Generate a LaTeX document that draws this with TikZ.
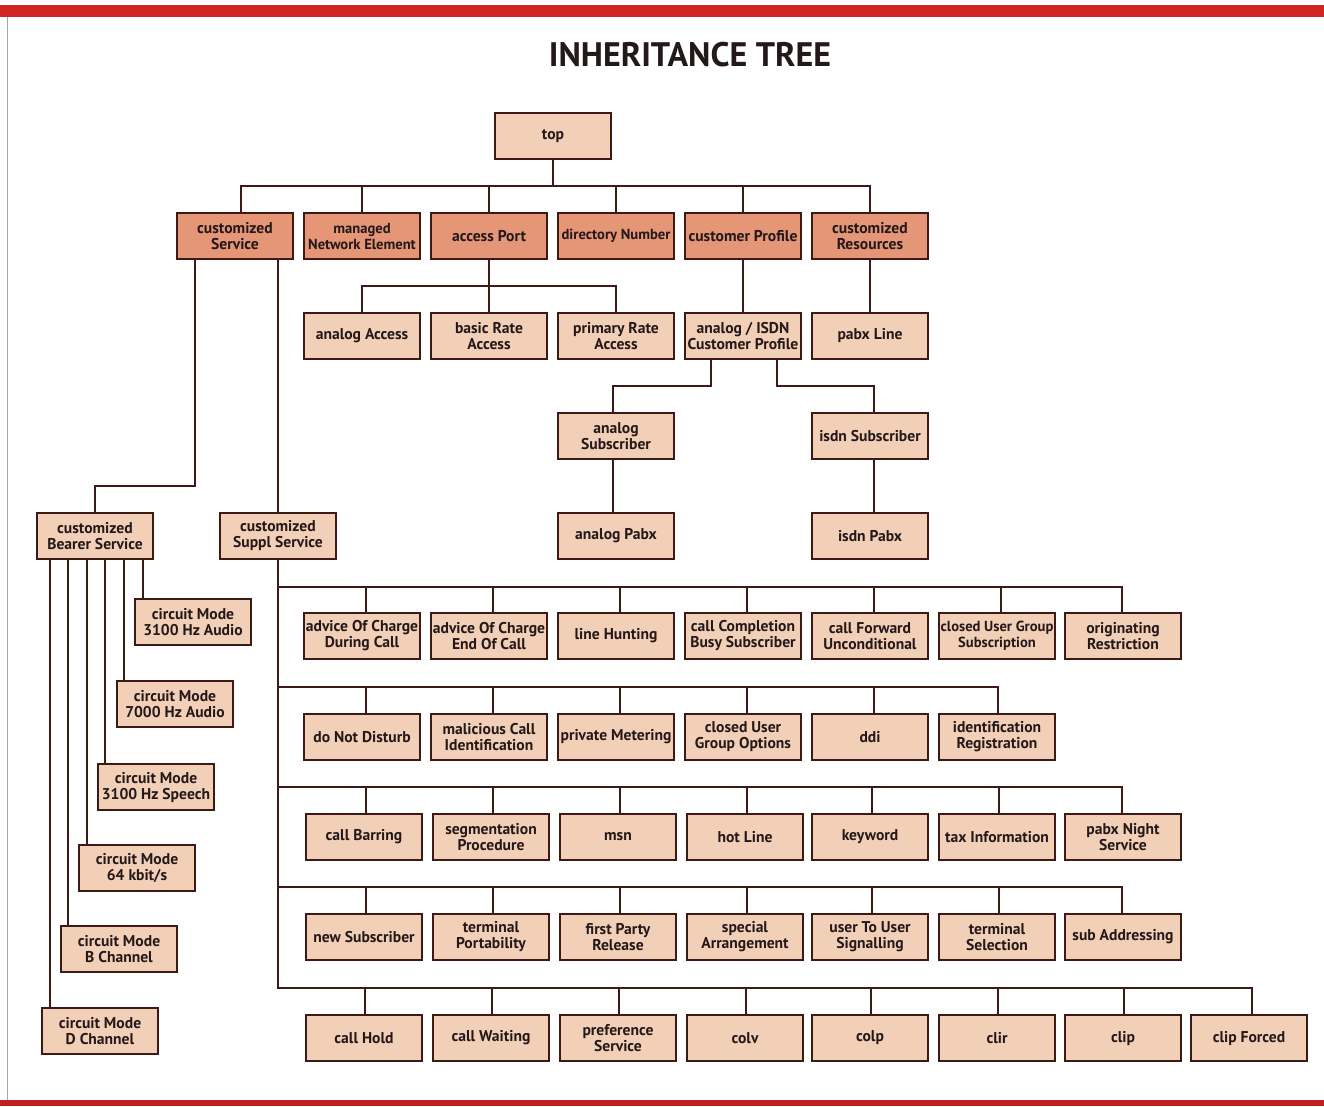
\documentclass[tikz,border=0pt]{standalone}
\usepackage{fontspec}
\setmainfont{PT Sans}
\definecolor{lightfill}{RGB}{242,208,184}
\definecolor{darkfill}{RGB}{228,150,118}
\definecolor{edge}{RGB}{62,26,22}
\definecolor{txt}{RGB}{36,24,24}
\definecolor{barred}{RGB}{208,38,36}
\tikzset{
  box/.style={draw=edge, line width=2.6pt, fill=lightfill, minimum width=116pt, minimum height=46pt,
    inner sep=0pt, align=center, text=txt, font=\fontsize{15.6}{16}\selectfont\bfseries},
  dbox/.style={box, fill=darkfill},
  tight/.style={font=\fontsize{14.6}{16}\selectfont\bfseries},
  conn/.style={draw=edge, line width=2pt}
}
\begin{document}
\begin{tikzpicture}[x=1pt,y=-1pt]
\useasboundingbox (0,0) rectangle (1324,1106);
\fill[white] (0,0) rectangle (1324,1106);
\fill[barred] (0,5) rectangle (1324,17);
\fill[barred!90!black] (0,1100) rectangle (1324,1106);
\draw[gray!70, line width=1pt] (7,17) -- (7,1100);
\node[font=\fontsize{34}{36}\selectfont\bfseries, text=txt] (title) at (690,55) {INHERITANCE TREE};

% level 0
\node[box] (top) at (553,136) {top};
% level 1
\node[dbox] (cs) at (235,236) {customized\\Service};
\node[dbox, tight] (mne) at (362,236) {managed\\Network Element};
\node[dbox] (ap) at (489,236) {access Port};
\node[dbox, tight] (dn) at (616,236) {directory Number};
\node[dbox] (cp) at (743,236) {customer Profile};
\node[dbox] (cr) at (870,236) {customized\\Resources};
% level 2
\node[box] (aa) at (362,336) {analog Access};
\node[box] (bra) at (489,336) {basic Rate\\Access};
\node[box] (pra) at (616,336) {primary Rate\\Access};
\node[box] (ai) at (743,336) {analog / ISDN\\Customer Profile};
\node[box] (pl) at (870,336) {pabx Line};
\node[box] (asub) at (616,436) {analog\\Subscriber};
\node[box] (isub) at (870,436) {isdn Subscriber};
\node[box] (apbx) at (616,536) {analog Pabx};
\node[box] (ipbx) at (870,536) {isdn Pabx};
\node[box] (cbs) at (95,536) {customized\\Bearer Service};
\node[box] (css) at (278,536) {customized\\Suppl Service};
% bearer children
\node[box] (cm1) at (193,622) {circuit Mode\\3100 Hz Audio};
\node[box] (cm2) at (175,704) {circuit Mode\\7000 Hz Audio};
\node[box] (cm3) at (156,787) {circuit Mode\\3100 Hz Speech};
\node[box] (cm4) at (137,868) {circuit Mode\\64 kbit/s};
\node[box] (cm5) at (119,949) {circuit Mode\\B Channel};
\node[box] (cm6) at (100,1031) {circuit Mode\\D Channel};
% suppl row 1
\node[box] (r1a) at (362,636) {advice Of Charge\\During Call};
\node[box] (r1b) at (489,636) {advice Of Charge\\End Of Call};
\node[box] (r1c) at (616,636) {line Hunting};
\node[box] (r1d) at (743,636) {call Completion\\Busy Subscriber};
\node[box] (r1e) at (870,636) {call Forward\\Unconditional};
\node[box, tight] (r1f) at (997,636) {closed User Group\\Subscription};
\node[box] (r1g) at (1123,636) {originating\\Restriction};
% row 2
\node[box] (r2a) at (362,737) {do Not Disturb};
\node[box] (r2b) at (489,737) {malicious Call\\Identification};
\node[box] (r2c) at (616,737) {private Metering};
\node[box] (r2d) at (743,737) {closed User\\Group Options};
\node[box] (r2e) at (870,737) {ddi};
\node[box] (r2f) at (997,737) {identification\\Registration};
% row 3
\node[box] (r3a) at (364,837) {call Barring};
\node[box] (r3b) at (491,837) {segmentation\\Procedure};
\node[box] (r3c) at (618,837) {msn};
\node[box] (r3d) at (745,837) {hot Line};
\node[box] (r3e) at (870,837) {keyword};
\node[box] (r3f) at (997,837) {tax Information};
\node[box] (r3g) at (1123,837) {pabx Night\\Service};
% row 4
\node[box] (r4a) at (364,937) {new Subscriber};
\node[box] (r4b) at (491,937) {terminal\\Portability};
\node[box] (r4c) at (618,937) {first Party\\Release};
\node[box] (r4d) at (745,937) {special\\Arrangement};
\node[box] (r4e) at (870,937) {user To User\\Signalling};
\node[box] (r4f) at (997,937) {terminal\\Selection};
\node[box] (r4g) at (1123,937) {sub Addressing};
% row 5
\node[box] (r5a) at (364,1038) {call Hold};
\node[box] (r5b) at (491,1038) {call Waiting};
\node[box] (r5c) at (618,1038) {preference\\Service};
\node[box] (r5d) at (745,1038) {colv};
\node[box] (r5e) at (870,1038) {colp};
\node[box] (r5f) at (997,1038) {clir};
\node[box] (r5g) at (1123,1038) {clip};
\node[box] (r5h) at (1249,1038) {clip Forced};

% connectors: top
\coordinate (t0) at (0,186);
\draw[conn] (top.south) -- (top.south |- t0);
\draw[conn] ([xshift=6]cs.north) |- (cr.north |- t0) -- (cr.north);
\foreach \n in {mne,ap,dn,cp} \draw[conn] (\n.north) -- (\n.north |- t0);
% access port
\coordinate (t1) at (0,286);
\draw[conn] (ap.south) -- (ap.south |- t1);
\draw[conn] (aa.north) |- (pra.north |- t1) -- (pra.north);
\draw[conn] (bra.north) -- (bra.north |- t1);
\draw[conn] (cp.south) -- (ai.north);
\draw[conn] (cr.south) -- (pl.north);
% analog/isdn
\draw[conn] ([xshift=-32]ai.south) -- ++(0,26) -| ([xshift=-3]asub.north);
\draw[conn] ([xshift=34]ai.south) -- ++(0,26) -| ([xshift=4]isub.north);
\draw[conn] ([xshift=-3]asub.south) -- ([xshift=-3]apbx.north);
\draw[conn] ([xshift=4]isub.south) -- ([xshift=4]ipbx.north);
% customized service
\draw[conn] ([xshift=-40]cs.south) -- ++(0,226) -| (cbs.north);
\draw[conn] ([xshift=43]cs.south) -- (css.north);
% bearer
\draw[conn] ([xshift=48]cbs.south) -- ([xshift=48]cbs.south |- cm1.north);
\draw[conn] ([xshift=29]cbs.south) -- ([xshift=29]cbs.south |- cm2.north);
\draw[conn] ([xshift=10]cbs.south) -- ([xshift=10]cbs.south |- cm3.north);
\draw[conn] ([xshift=-8]cbs.south) -- ([xshift=-8]cbs.south |- cm4.north);
\draw[conn] ([xshift=-27]cbs.south) -- ([xshift=-27]cbs.south |- cm5.north);
\draw[conn] ([xshift=-45]cbs.south) -- ([xshift=-45]cbs.south |- cm6.north);
% suppl
\coordinate (s1) at (0,587);
\coordinate (s2) at (0,687);
\coordinate (s3) at (0,787);
\coordinate (s4) at (0,887);
\coordinate (s5) at (0,988);
\draw[conn] (css.south) -- (css.south |- s5) -| ([xshift=3]r5h.north);
\draw[conn] (css.south |- s1) -| ([xshift=-1]r1g.north);
\draw[conn] (css.south |- s2) -| ([xshift=1]r2f.north);
\draw[conn] (css.south |- s3) -| ([xshift=-1]r3g.north);
\draw[conn] (css.south |- s4) -| ([xshift=-1]r4g.north);
\foreach \n in {r1a,r1b,r1c,r1d,r1e,r1f} \draw[conn] ([xshift=4]\n.north) -- ([xshift=4]\n.north |- s1);
\foreach \n in {r2a,r2b,r2c,r2d,r2e} \draw[conn] ([xshift=4]\n.north) -- ([xshift=4]\n.north |- s2);
\foreach \n in {r3a,r3b,r3c,r3d,r3e,r3f} \draw[conn] ([xshift=2]\n.north) -- ([xshift=2]\n.north |- s3);
\foreach \n in {r4a,r4b,r4c,r4d,r4e,r4f} \draw[conn] ([xshift=2]\n.north) -- ([xshift=2]\n.north |- s4);
\foreach \n in {r5a,r5b,r5c,r5d,r5e,r5f,r5g} \draw[conn] ([xshift=1]\n.north) -- ([xshift=1]\n.north |- s5);
\end{tikzpicture}
\end{document}
